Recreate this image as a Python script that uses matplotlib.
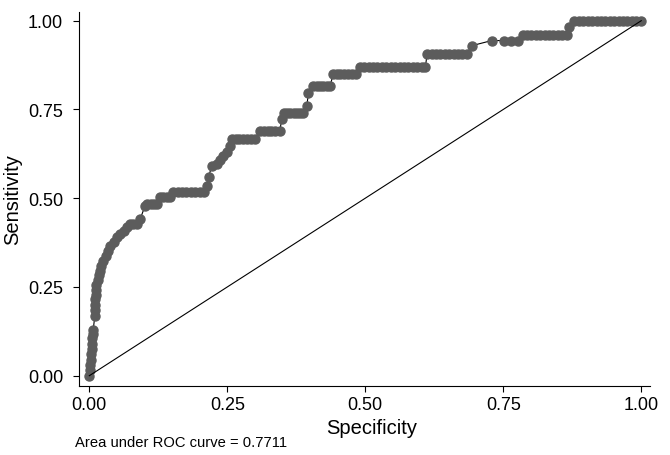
import matplotlib
matplotlib.use("Agg")
import matplotlib.pyplot as plt

plt.rcParams['font.family'] = ['Liberation Sans', 'DejaVu Sans']

# ROC points (x axis labelled "Specificity" as in the source)
spec = [0.000, 0.001, 0.002, 0.003, 0.003, 0.004, 0.004, 0.005, 0.006, 0.007,
        0.010, 0.010, 0.011, 0.011, 0.012, 0.012, 0.013, 0.015, 0.017, 0.019,
        0.022, 0.025, 0.030, 0.034, 0.038, 0.044, 0.050, 0.056, 0.062, 0.068,
        0.074, 0.080, 0.086, 0.092,
        0.101, 0.105, 0.111, 0.117, 0.123, 0.128, 0.134, 0.140, 0.146, 0.152,
        0.160, 0.168, 0.176, 0.184, 0.192, 0.200, 0.207, 0.213,
        0.216, 0.222, 0.231, 0.237, 0.243, 0.249, 0.255, 0.258, 0.265, 0.272,
        0.279, 0.286, 0.293, 0.300, 0.309, 0.316, 0.323, 0.330, 0.337, 0.345,
        0.349, 0.352, 0.358, 0.364, 0.370, 0.376, 0.382, 0.388, 0.394,
        0.397, 0.406, 0.412, 0.418, 0.424, 0.430, 0.436, 0.442, 0.448, 0.455,
        0.462, 0.469, 0.476, 0.483, 0.490, 0.498, 0.506, 0.514, 0.522, 0.530,
        0.538, 0.546, 0.554, 0.562, 0.570, 0.578, 0.586, 0.594, 0.602, 0.609,
        0.612, 0.620, 0.628, 0.636, 0.644, 0.652, 0.660, 0.668, 0.676, 0.684,
        0.694, 0.729, 0.752, 0.764, 0.776,
        0.785, 0.793, 0.801, 0.809, 0.817, 0.825, 0.833, 0.841, 0.849, 0.857,
        0.865, 0.870,
        0.879, 0.887, 0.895, 0.903, 0.911, 0.919, 0.927, 0.935, 0.943, 0.951,
        0.959, 0.967, 0.975, 0.983, 0.991, 1.000]
sens = [0.000, 0.015, 0.030, 0.045, 0.060, 0.075, 0.090, 0.105, 0.118, 0.128,
        0.169, 0.185, 0.200, 0.215, 0.228, 0.242, 0.256, 0.270, 0.283, 0.296,
        0.310, 0.324, 0.338, 0.352, 0.366, 0.378, 0.390, 0.400, 0.408, 0.418,
        0.427, 0.427, 0.427, 0.441,
        0.478, 0.484, 0.484, 0.484, 0.484, 0.503, 0.503, 0.503, 0.503, 0.517,
        0.517, 0.517, 0.517, 0.517, 0.517, 0.517, 0.517, 0.535,
        0.559, 0.592, 0.596, 0.608, 0.620, 0.629, 0.648, 0.667, 0.667, 0.667,
        0.667, 0.667, 0.667, 0.667, 0.690, 0.690, 0.690, 0.690, 0.690, 0.690,
        0.723, 0.740, 0.740, 0.740, 0.740, 0.740, 0.740, 0.740, 0.760,
        0.795, 0.815, 0.815, 0.815, 0.815, 0.815, 0.815, 0.850, 0.850, 0.850,
        0.850, 0.850, 0.850, 0.850, 0.870, 0.870, 0.870, 0.870, 0.870, 0.870,
        0.870, 0.870, 0.870, 0.870, 0.870, 0.870, 0.870, 0.870, 0.870, 0.870,
        0.907, 0.907, 0.907, 0.907, 0.907, 0.907, 0.907, 0.907, 0.907, 0.907,
        0.930, 0.944, 0.944, 0.944, 0.944,
        0.960, 0.960, 0.960, 0.960, 0.960, 0.960, 0.960, 0.960, 0.960, 0.960,
        0.960, 0.983,
        1.000, 1.000, 1.000, 1.000, 1.000, 1.000, 1.000, 1.000, 1.000, 1.000,
        1.000, 1.000, 1.000, 1.000, 1.000, 1.000]

ticks = [0.0, 0.25, 0.5, 0.75, 1.0]
tick_labels = ['0.00', '0.25', '0.50', '0.75', '1.00']
auc_note = 'Area under ROC curve = 0.7711'

fig = plt.figure(figsize=(6.7, 4.56), dpi=100)
fig.patch.set_facecolor('white')
ax = fig.add_axes([0.1179, 0.1513, 0.8522, 0.8202])

ax.plot(spec, sens, '-', color='black', lw=0.8, marker='o', markersize=6.5,
        markerfacecolor='#5c5c5c', markeredgecolor='#5c5c5c', zorder=2)
ax.plot([0, 1], [0, 1], '-', color='black', lw=0.8, zorder=3)

ax.set_xlim(-0.0187, 1.0158)
ax.set_ylim(-0.029, 1.0245)
ax.set_xticks(ticks)
ax.set_xticklabels(tick_labels)
ax.set_yticks(ticks)
ax.set_yticklabels(tick_labels)
ax.tick_params(axis='both', direction='out', length=4.5, width=0.8, labelsize=13)
ax.tick_params(axis='y', pad=7)
ax.tick_params(axis='x', pad=3)

for side in ['top', 'right']:
    ax.spines[side].set_visible(False)
for side in ['left', 'bottom']:
    ax.spines[side].set_linewidth(0.8)

ax.set_xlabel('Specificity', fontsize=14.5, va='baseline')
ax.xaxis.set_label_coords(0.513, -0.1257)
ax.set_ylabel('Sensitivity', fontsize=14.5)
ax.yaxis.set_label_coords(-0.1, 0.5)
fig.text(75 / 670, 1 - 447 / 456, auc_note, fontsize=10.6, ha='left', va='baseline')

plt.savefig('out.png', dpi=100)
plt.close(fig)
